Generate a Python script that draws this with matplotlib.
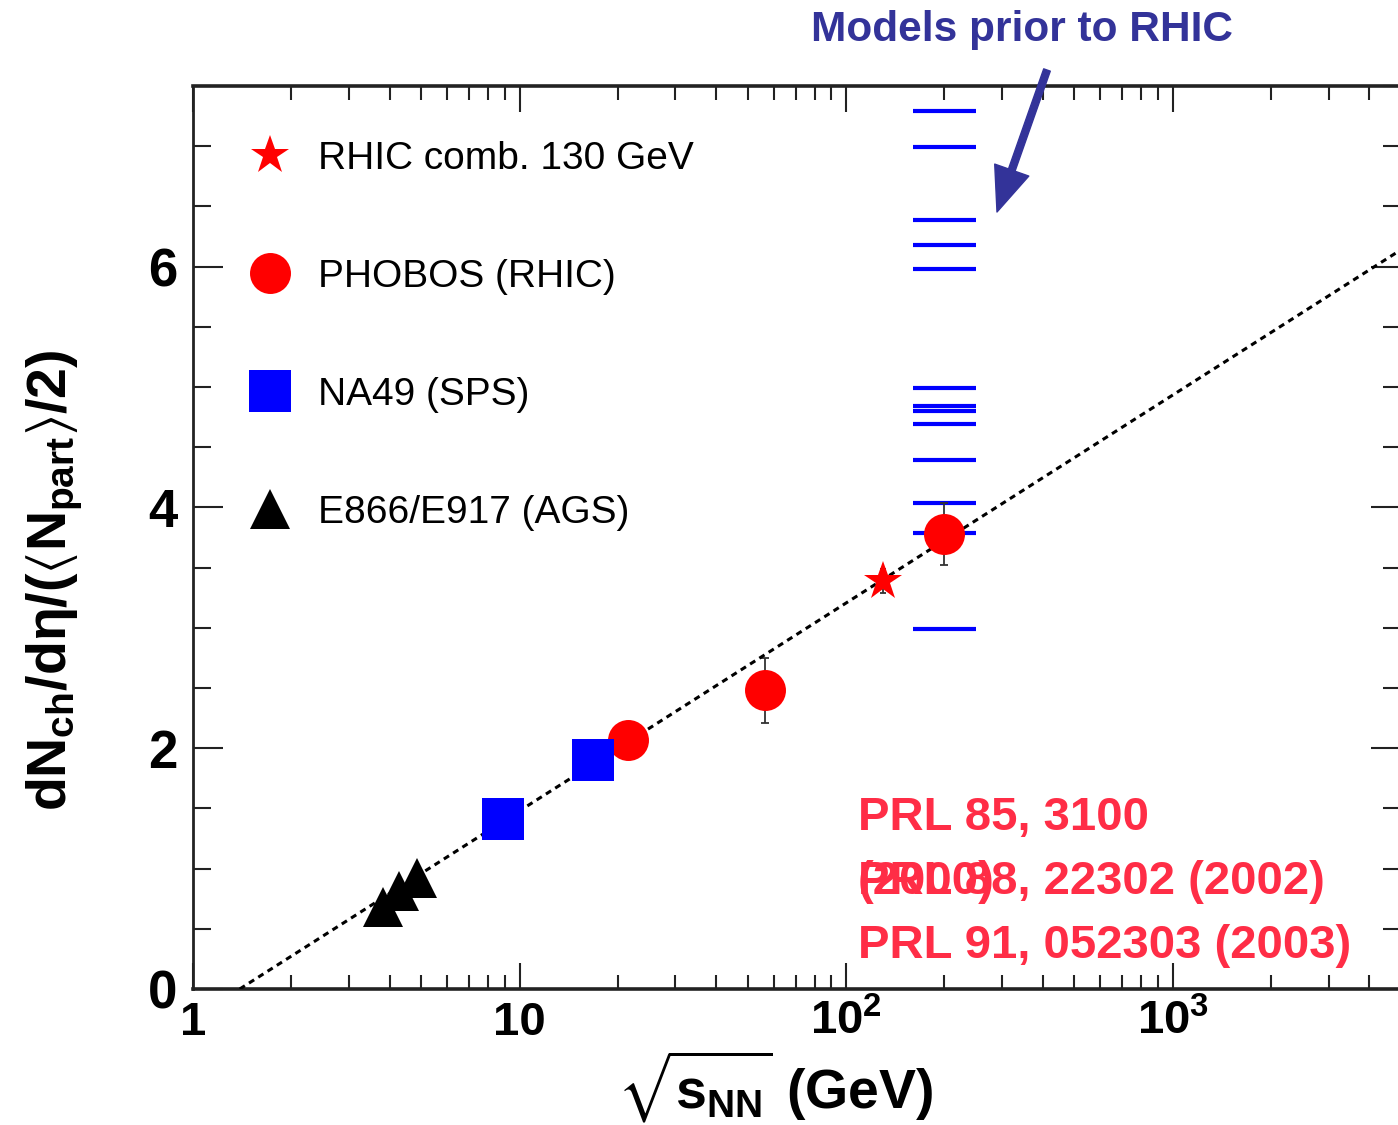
import matplotlib
matplotlib.use('Agg')
import matplotlib.pyplot as plt
from matplotlib.ticker import FixedLocator, FixedFormatter, LogLocator, NullFormatter, MultipleLocator

# measured points
ags_x = [3.82, 4.27, 4.85]
ags_y = [0.68, 0.81, 0.92]
na49_x = [8.9, 16.8]
na49_y = [1.41, 1.90]
phobos_x = [21.5, 56.4, 200.0]
phobos_y = [2.07, 2.48, 3.78]
phobos_err = [0.12, 0.27, 0.26]
rhic130_x = [130.0]
rhic130_y = [3.39]
rhic130_err = [0.1]

# model predictions at 200 GeV
model_y = [7.29, 6.99, 6.39, 6.18, 5.98, 4.99, 4.84, 4.80, 4.69, 4.39, 4.04, 3.79, 2.99]
model_x = [160, 250]

# logarithmic fit line (endpoints)
fit_x = [1.39, 5000]
fit_y = [0.0, 6.14]

legend_labels = ['RHIC comb. 130 GeV', 'PHOBOS (RHIC)', 'NA49 (SPS)', 'E866/E917 (AGS)']
x_ticks = [1, 10, 100, 1000]
x_tick_labels = ['1', '10', r'$10^{2}$', r'$10^{3}$']
refs = ['PRL 85, 3100', '(2000)', 'PRL 88, 22302 (2002)', 'PRL 91, 052303 (2003)']

plt.rcParams['font.family'] = ['Liberation Sans', 'DejaVu Sans']
plt.rcParams['mathtext.fontset'] = 'custom'
plt.rcParams['mathtext.rm'] = 'Liberation Sans:bold'
plt.rcParams['mathtext.it'] = 'Liberation Sans:bold'
plt.rcParams['mathtext.bf'] = 'Liberation Sans:bold'
plt.rcParams['mathtext.sf'] = 'Liberation Sans:bold'
plt.rcParams['mathtext.fallback'] = 'stixsans'

W, H = 1398, 1125
fig = plt.figure(figsize=(W / 100, H / 100), dpi=100)
ax = fig.add_axes([193 / W, 1 - 989 / H, 1208 / W, 903 / H])

RED = '#ff0000'
BLUE = '#0000ff'

ax.hlines(model_y, model_x[0], model_x[1], colors=BLUE, lw=3, zorder=2)
ax.plot(fit_x, fit_y, color='black', lw=2.2, linestyle=(0, (2, 1.6)), zorder=3)

ax.errorbar(phobos_x, phobos_y, yerr=phobos_err, fmt='none', ecolor='#333333',
            elinewidth=1.3, capsize=3, capthick=1.3, zorder=2.5)
ax.errorbar(rhic130_x, rhic130_y, yerr=rhic130_err, fmt='none', ecolor='#333333',
            elinewidth=1.3, capsize=2, capthick=1.3, zorder=2.5)

h_star, = ax.plot(rhic130_x, rhic130_y, '*', color=RED, ms=29.5, mew=0, zorder=4)
h_circ, = ax.plot(phobos_x, phobos_y, 'o', color=RED, ms=29.5, mew=0, zorder=4)
h_sq, = ax.plot(na49_x, na49_y, 's', color=BLUE, ms=30, mew=0, zorder=4)
h_tri, = ax.plot(ags_x, ags_y, '^', color='black', ms=29, mew=0, zorder=4)

ax.set_xscale('log')
ax.set_xlim(1, 5000)
ax.set_ylim(0, 7.5)

ax.xaxis.set_major_locator(FixedLocator(x_ticks))
ax.xaxis.set_major_formatter(FixedFormatter(x_tick_labels))
ax.xaxis.set_minor_locator(LogLocator(base=10, subs=range(2, 10)))
ax.xaxis.set_minor_formatter(NullFormatter())
ax.yaxis.set_major_locator(MultipleLocator(2))
ax.yaxis.set_minor_locator(MultipleLocator(0.5))

ax.tick_params(which='both', direction='in', top=True, right=True, width=1.5, color='#222222')
ax.tick_params(axis='x', which='major', length=19, pad=33, labelsize=34)
ax.tick_params(axis='x', which='minor', length=10)
ax.tick_params(axis='y', which='major', length=21.6, pad=11, labelsize=38)
ax.tick_params(axis='y', which='minor', length=13)
for lab in ax.get_xticklabels():
    lab.set_fontweight('bold')
    lab.set_va('baseline')
for lab in ax.get_yticklabels():
    lab.set_fontweight('bold')

for sp in ax.spines.values():
    sp.set_linewidth(2)
    sp.set_color('#222222')
ax.spines['top'].set_linewidth(2.6)
ax.spines['bottom'].set_linewidth(2.6)

ax.set_xlabel(r'$\sqrt{s_{NN}}$ (GeV)', fontsize=40, fontweight='bold')
ax.xaxis.set_label_coords(0.482, -0.066)
ax.set_ylabel(r'$dN_{ch}/d\eta/(\langle N_{part}\rangle/2)$', fontsize=40)
ax.yaxis.set_label_coords(-0.089, 0.453)

ax.legend([h_star, h_circ, h_sq, h_tri], legend_labels, loc='upper left',
          bbox_to_anchor=(0.0443, 0.9396), frameon=False, fontsize=28,
          handlelength=1.2, handletextpad=0.63, labelspacing=2.11,
          borderpad=0, borderaxespad=0, numpoints=1)

# annotation above the frame
fig.text(1021.5 / W, 1 - 41 / H, 'Models prior to RHIC', color='#333399',
         fontsize=30.5, fontweight='bold', ha='center', va='baseline')
ax.annotate('', xy=(997 / W, 1 - 212 / H), xytext=(1047 / W, 1 - 70 / H),
            xycoords='figure fraction', textcoords='figure fraction',
            arrowprops=dict(width=5, headwidth=26, headlength=32, color='#333399', shrink=0),
            annotation_clip=False)

# publication references (first one wraps onto the second line)
ref_base = [830, 894, 894, 958]
for txt, yb in zip(refs, ref_base):
    fig.text(858 / W, 1 - yb / H, txt, color='#ff2d46', fontsize=34,
             fontweight='bold', ha='left', va='baseline')

fig.savefig('out.png', dpi=100)
